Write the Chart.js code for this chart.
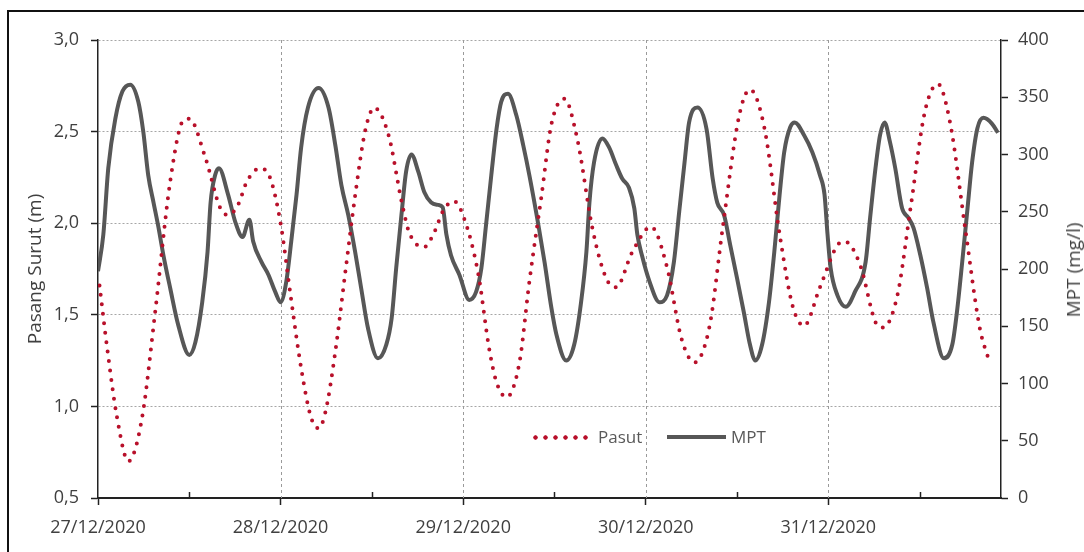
<!DOCTYPE html>
<html>
<head>
<meta charset="utf-8">
<script src="https://cdn.jsdelivr.net/npm/chart.js@4.4.0/dist/chart.umd.min.js"></script>
<style>
  html, body { margin: 0; padding: 0; background: #fff; overflow: hidden; }
  #wrap { position: relative; width: 1084px; height: 552px; overflow: hidden; }
  #frame { position: absolute; left: 7px; top: 10px; width: 1100px; height: 600px;
           border-left: 2px solid #111; border-top: 2px solid #111; }
  #chart { position: absolute; left: 0; top: 0; }
  .lbl { position: absolute; font-family: 'Open Sans', sans-serif; font-size: 17px;
         line-height: 20px; color: #595959; white-space: nowrap; }
  #dots { position: absolute; left: 533px; top: 435px; width: 57px; height: 5px;
          background: radial-gradient(circle at 2.5px 2.5px, #B8102A 1.9px, rgba(255,255,255,0) 2.5px) 0 0 / 10px 5px repeat-x; }
  #solid { position: absolute; left: 667px; top: 435px; width: 59px; height: 4px; background: #575757; }
  #rtitle { position: absolute; left: 1073px; top: 270px; transform: translate(-50%, -50%) rotate(-90deg);
            font-family: 'Open Sans', sans-serif; font-size: 19px; color: #404040; white-space: nowrap; }
</style>
</head>
<body>
<div id="wrap">
  <div id="frame"></div>
  <canvas id="chart" width="1084" height="552"></canvas>
  <div id="dots"></div><div class="lbl" style="left:598px;top:427px">Pasut</div>
  <div id="solid"></div><div class="lbl" style="left:731px;top:427px">MPT</div>
  <div id="rtitle">MPT (mg/l)</div>
</div>
<script>
// tanggal (label tiap 24 jam)
const dateLabels = ['27/12/2020', '28/12/2020', '29/12/2020', '30/12/2020', '31/12/2020']

// pasang surut (m), jam sejak 27/12/2020 00:00
const pasutHours = [0.2,1.2,2.5,4.0,5.8,7.5,9.5,11.2,12.0,14.1,16.1,17.1,18.4,19.6,21.3,22.6,24.0,25.3,26.7,28.0,
  29.0,29.9,31.2,32.5,33.8,35.1,36.3,38.2,39.9,40.9,42.9,44.2,45.4,46.8,48.1,50.0,51.4,52.4,53.7,55.4,
  56.7,58.3,59.6,61.3,63.0,65.0,66.8,68.1,70.2,72.7,74.8,76.7,78.4,80.4,82.1,84.3,85.7,87.6,89.6,91.3,
  92.8,94.9,97.2,98.2,100.2,102.2,103.2,105.1,106.8,108.7,110.4,112.0,114.0,115.9,117.2]
const pasutValues = [1.66,1.32,0.94,0.70,0.94,1.51,2.23,2.56,2.57,2.36,2.08,2.045,2.10,2.23,2.30,2.25,2.00,1.61,1.21,0.94,
  0.88,0.97,1.30,1.73,2.15,2.50,2.63,2.48,2.12,1.95,1.87,1.95,2.07,2.12,2.03,1.72,1.32,1.13,1.05,1.24,
  1.68,2.15,2.54,2.68,2.46,1.97,1.70,1.65,1.84,1.98,1.76,1.37,1.24,1.44,1.97,2.59,2.73,2.52,1.94,1.55,
  1.44,1.65,1.88,1.90,1.77,1.46,1.43,1.61,2.08,2.61,2.76,2.55,1.97,1.43,1.24]

// MPT (mg/l)
const mptHours = [0.0,0.7,1.35,2.3,3.2,4.25,5.3,5.95,6.6,7.3,7.9,8.6,9.5,10.55,12.0,12.8,13.7,14.4,14.8,15.4,
  15.9,17.1,18.05,19.0,19.9,20.4,21.5,22.4,23.3,24.0,24.75,25.4,26.1,26.7,27.6,29.0,30.3,31.2,32.0,32.9,
  33.8,34.6,35.5,36.8,37.9,38.6,39.2,39.9,40.5,41.2,42.1,42.9,43.8,44.7,45.3,45.8,46.4,47.5,48.8,49.7,
  50.4,51.0,51.7,52.4,53.0,53.9,55.0,55.9,56.7,57.9,58.7,59.6,60.25,61.55,62.6,63.5,64.2,64.6,65.2,66.3,
  67.2,68.1,68.9,69.8,70.5,70.9,71.5,72.5,73.8,74.8,75.7,76.4,77.1,77.7,78.8,80.0,80.8,81.4,82.3,83.1,
  84.0,84.9,85.7,86.4,87.3,88.2,88.9,89.6,90.2,91.0,91.6,92.8,93.9,94.9,95.5,95.9,96.3,97.2,98.3,99.5,
  100.9,101.5,102.2,102.8,103.4,104.1,104.8,105.7,106.5,107.2,108.1,109.0,109.8,111.2,112.3,112.9,113.6,114.3,114.9,115.6,
  116.4,117.5,118.3]
const mptValues = [198,230,288,332,355,361,346,320,282,258,238,212,183,151,125,136,171,215,258,282,
  288,265,241,228,243,224,206,195,180,171,189,224,265,306,341,358,341,308,273,247,
  215,183,148,122,134,157,201,248,285,300,285,267,258,256,254,230,212,195,173,180,
  201,238,282,323,346,353,334,308,282,238,206,166,143,120,134,171,215,258,293,314,
  306,291,279,271,253,230,212,189,171,177,206,250,293,328,341,322,279,258,247,221,
  192,162,134,120,134,171,215,265,302,324,328,317,302,282,265,230,201,177,167,180,
  206,245,288,317,328,311,288,253,245,236,212,183,154,122,134,162,206,253,293,323,
  332,327,319]

const leftTicks = [0.5, 1.0, 1.5, 2.0, 2.5, 3.0]
const rightTicks = [0, 50, 100, 150, 200, 250, 300, 350, 400]

Chart.defaults.font.family = "'Open Sans', sans-serif"
Chart.defaults.color = '#404040'

// garis grid vertikal tiap hari + tick kecil ke dalam jam 12:00
const dayGrid = {
    id: 'dayGrid',
    beforeDatasetsDraw(chart){
        const ctx = chart.ctx
        const x = chart.scales.x
        const {top, bottom} = chart.chartArea
        ctx.save()
        ctx.strokeStyle = '#9a9a9a'
        ctx.lineWidth = 1
        ctx.setLineDash([3, 3])
        for (let i = 1; i < dateLabels.length; i++) {
            const px = Math.round(x.getPixelForValue(i * 24)) + 0.5
            ctx.beginPath()
            ctx.moveTo(px, top)
            ctx.lineTo(px, bottom)
            ctx.stroke()
        }
        ctx.restore()
    },
    afterDraw(chart){
        const ctx = chart.ctx
        const x = chart.scales.x
        const bottom = chart.chartArea.bottom
        ctx.save()
        ctx.strokeStyle = '#222'
        ctx.lineWidth = 1.5
        for (let h = 12; h < 118; h += 24) {
            const px = Math.round(x.getPixelForValue(h)) + 0.5
            ctx.beginPath()
            ctx.moveTo(px, bottom)
            ctx.lineTo(px, bottom - 6)
            ctx.stroke()
        }
        ctx.restore()
    }
}

var ctx = document.getElementById('chart')
var myChart = new Chart(ctx, {
    type: 'line',
    data: {
        datasets: [{
            label: 'Pasut',
            data: pasutHours.map((h, i) => ({x: h, y: pasutValues[i]})),
            yAxisID: 'y',
            borderColor: '#B8102A',
            borderWidth: 4,
            borderDash: [0, 9.5],
            borderCapStyle: 'round',
            pointRadius: 0,
            cubicInterpolationMode: 'monotone',
            fill: false
        }, {
            label: 'MPT',
            data: mptHours.map((h, i) => ({x: h, y: mptValues[i]})),
            yAxisID: 'y1',
            borderColor: '#575757',
            borderWidth: 4,
            borderJoinStyle: 'round',
            pointRadius: 0,
            cubicInterpolationMode: 'monotone',
            fill: false
        }]
    },
    options: {
        responsive: false,
        animation: false,
        devicePixelRatio: 1,
        layout: { padding: { top: 40, left: 0, right: 0, bottom: 0 } },
        plugins: { legend: { display: false }, tooltip: { enabled: false } },
        scales: {
            x: {
                type: 'linear',
                min: 0,
                max: 118.7,
                afterFit: s => { s.height = 54 },
                afterBuildTicks: s => { s.ticks = dateLabels.map((d, i) => ({value: i * 24})) },
                ticks: {
                    autoSkip: false,
                    maxRotation: 0,
                    padding: 12,
                    font: { size: 18 },
                    callback: (v, i) => dateLabels[i]
                },
                grid: { drawOnChartArea: false, offset: false, tickLength: 7, tickColor: '#222', tickWidth: 1.5 },
                border: { display: true, color: '#222', width: 2 }
            },
            y: {
                position: 'left',
                min: 0.5,
                max: 3.0,
                afterFit: s => { s.width = 98 },
                afterBuildTicks: s => { s.ticks = leftTicks.map(v => ({value: v})) },
                ticks: {
                    padding: 12,
                    font: { size: 18 },
                    callback: v => v.toFixed(1).replace('.', ',')
                },
                grid: { color: '#a6a6a6', lineWidth: 1, tickLength: 7, tickColor: '#222', tickWidth: 1.5 },
                border: { display: true, color: '#222', width: 1.5, dash: [2, 2] },
                title: {
                    display: true,
                    text: 'Pasang Surut (m)',
                    font: { size: 19 },
                    color: '#404040',
                    padding: { top: 24, bottom: 0 }
                }
            },
            y1: {
                position: 'right',
                min: 0,
                max: 400,
                afterFit: s => { s.width = 83 },
                afterBuildTicks: s => { s.ticks = rightTicks.map(v => ({value: v})) },
                ticks: { padding: 10, font: { size: 18 } },
                grid: { drawOnChartArea: false, tickLength: 7, tickColor: '#222', tickWidth: 1.5 },
                border: { display: true, color: '#222', width: 1.5 }
            }
        }
    },
    plugins: [dayGrid]
})
</script>
</body>
</html>
